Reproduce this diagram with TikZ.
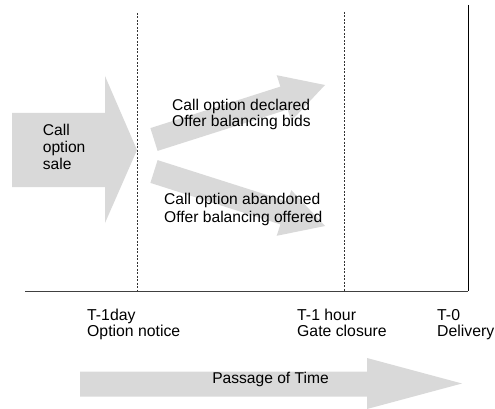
\documentclass[tikz,border=0pt]{standalone}
\usepackage{fontspec}
\setmainfont{Liberation Sans}
\definecolor{arrowgray}{HTML}{D9D9D9}
\begin{document}
\begin{tikzpicture}[x=1pt,y=-1pt,
  fat/.style={fill=arrowgray,draw=none},
  lbl/.style={inner sep=0pt,align=left,anchor=base west,font={\fontsize{15.6}{17}\selectfont}},
  tlbl/.style={inner sep=0pt,align=left,anchor=base west,font={\fontsize{15.8}{15.6}\selectfont}},
  guide/.style={draw=black!80,line width=0.6pt,dash pattern=on 2pt off 1.5pt},
  axisline/.style={draw=black!75,line width=1pt}]
\useasboundingbox (0,0) rectangle (495,409);

% coordinates
\coordinate (d1top) at (137,13);
\coordinate (d1bot) at (137,291);
\coordinate (d2top) at (344,12);
\coordinate (d2bot) at (344,291);
\coordinate (endtop) at (468,5);
\coordinate (endbot) at (468,291);
\coordinate (axl) at (25,291);

% big arrow: call option sale
\fill[fat] (12,113) -- (105,113) -- (105,76) -- (137,150) -- (105,223) -- (105,187) -- (12,187) -- cycle;

% upper diagonal arrow
\fill[fat] (150.4,128.1) -- (280.4,86.6) -- (276.7,75.2) -- (325,85) -- (291.3,120.9) -- (287.6,109.5) -- (157.6,150.9) -- cycle;

% lower diagonal arrow
\fill[fat] (157.6,160.1) -- (287.6,201.5) -- (291.3,190.1) -- (325,226) -- (276.7,235.8) -- (280.4,224.4) -- (150.4,182.9) -- cycle;

% passage of time arrow
\fill[fat] (80,371.5) -- (367,371.5) -- (367,358) -- (462,383.5) -- (367,409) -- (367,396.5) -- (80,396.5) -- cycle;

% guides and axis
\draw[guide] (d1top) -- (d1bot);
\draw[guide] (d2top) -- (d2bot);
\draw[black,line width=1pt] (endtop) -- (endbot);
\draw[axisline] (axl) -- (endbot);

% texts (base anchor = baseline of last line)
\node[lbl] (sale) at (42.7,169.5) {Call\\option\\sale};
\node[lbl] (decl) at (172,127) {Call option declared\\Offer balancing bids};
\node[lbl,font={\fontsize{15.6}{18}\selectfont}] (aban) at (164,222) {Call option abandoned\\Offer balancing offered};
\node[tlbl] (t1d) at (87,336) {T-1day\\Option notice};
\node[tlbl] (t1h) at (297,336) {T-1 hour\\Gate closure};
\node[tlbl] (t0) at (437,336) {T-0\\Delivery};
\node[inner sep=0pt,anchor=base,font={\fontsize{15.6}{17}\selectfont}] (pot) at (270.5,383.5) {Passage of Time};
\end{tikzpicture}
\end{document}
